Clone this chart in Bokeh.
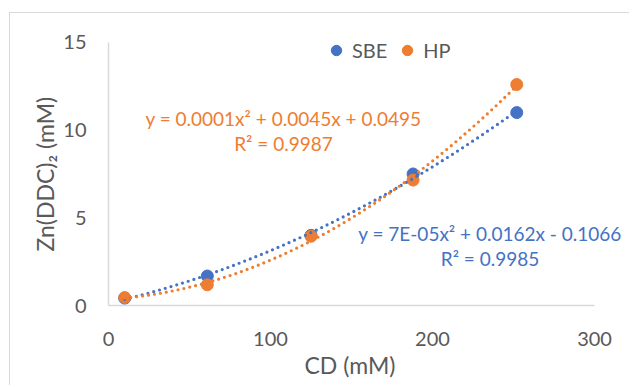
import numpy as np
from bokeh.plotting import figure
from bokeh.models import Legend, LegendItem, Label, FixedTicker, ColumnDataSource, Title
from bokeh.embed import file_html
from bokeh.resources import INLINE

# ---- data ----
cd = [10, 61, 125, 188, 252]
sbe = [0.42, 1.68, 4.0, 7.5, 11.0]
hp = [0.45, 1.18, 3.95, 7.15, 12.6]
x_ticks = [0, 100, 200, 300]
y_ticks = [0, 5, 10, 15]
hp_eq = ["y = 0.0001x\u00b2 + 0.0045x + 0.0495", "R\u00b2 = 0.9987"]
sbe_eq = ["y = 7E-05x\u00b2 + 0.0162x - 0.1066", "R\u00b2 = 0.9985"]

BLUE = "#4472C4"
ORANGE = "#ED7D31"
GREY = "#595959"
FONT = "Lato"

p = figure(width=620, height=373, x_range=(0, 322.2), y_range=(0, 15.68),
           output_backend="svg", toolbar_location=None,
           min_border_left=98, min_border_right=0, min_border_top=17, min_border_bottom=81,
           margin=(12, 0, 0, 9))
p.styles = {"border-left": "1px solid #d9d9d9", "border-top": "1px solid #d9d9d9"}
p.outline_line_color = None
p.grid.visible = False

for ax in (p.xaxis[0], p.yaxis[0]):
    ax.axis_line_color = "#d9d9d9"
    ax.axis_line_width = 1.5
    ax.major_tick_line_color = None
    ax.minor_tick_line_color = None
    ax.major_tick_out = 0
    ax.major_tick_in = 0
    ax.minor_tick_out = 0
    ax.major_label_text_font = FONT
    ax.major_label_text_font_size = "20px"
    ax.major_label_text_color = GREY

p.xaxis.ticker = FixedTicker(ticks=x_ticks)
p.yaxis.ticker = FixedTicker(ticks=y_ticks)
p.xaxis.bounds = (x_ticks[0], x_ticks[-1])
p.yaxis.bounds = (y_ticks[0], y_ticks[-1])
p.xaxis.major_label_standoff = 26
p.yaxis.major_label_standoff = 22

# axis titles, centred on the 0-300 / 0-15 axes (the frame is larger than the axes)
xtitle = Title(text="CD (mM)", align="left", offset=196, standoff=0,
               text_font=FONT, text_font_size="23px", text_font_style="normal",
               text_color=GREY)
p.add_layout(xtitle, "below")
ytitle = Title(text="Zn(DDC)\u2082 (mM)", align="left", offset=54, standoff=4,
               text_font=FONT, text_font_size="23px", text_font_style="normal",
               text_color=GREY)
p.add_layout(ytitle, "left")

src = ColumnDataSource(dict(cd=cd, sbe=sbe, hp=hp))
r_sbe = p.scatter("cd", "sbe", source=src, size=12, color=BLUE)
r_hp = p.scatter("cd", "hp", source=src, size=12, color=ORANGE)

# polynomial (order 2) trendlines fitted to the data
xs = np.linspace(min(cd), max(cd), 200)
for ys, col in ((sbe, BLUE), (hp, ORANGE)):
    c = np.polyfit(cd, ys, 2)
    p.line(xs, np.polyval(c, xs), line_color=col, line_width=3.2,
           line_dash="0 6", line_cap="round")

legend = Legend(items=[LegendItem(label="SBE", renderers=[r_sbe]),
                       LegendItem(label="HP", renderers=[r_hp])],
                orientation="horizontal", location=(215, 242),
                padding=0, margin=0, spacing=7, glyph_width=26, glyph_height=26,
                label_height=26, label_standoff=3,
                label_text_font=FONT, label_text_font_size="20px",
                label_text_color=GREY, background_fill_alpha=0,
                border_line_color=None)
p.add_layout(legend)

for txt, yy in zip(hp_eq, (10.67, 9.26)):
    p.add_layout(Label(x=108, y=yy, text=txt, text_align="center", text_baseline="middle",
                       text_font=FONT, text_font_size="19px", text_color=ORANGE))
for txt, yy in zip(sbe_eq, (4.1, 2.68)):
    p.add_layout(Label(x=235.5, y=yy, text=txt, text_align="center", text_baseline="middle",
                       text_font=FONT, text_font_size="19px", text_color=BLUE))

open("out.html", "w").write(file_html(p, INLINE))
